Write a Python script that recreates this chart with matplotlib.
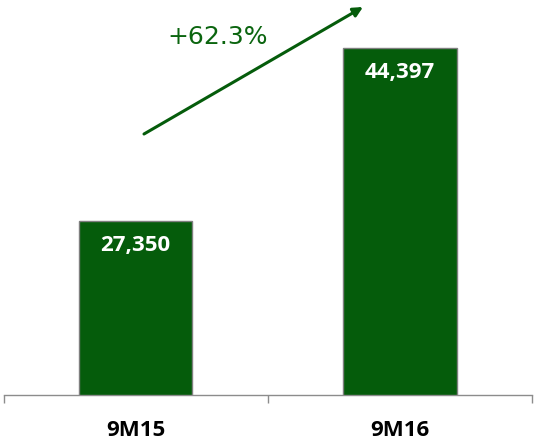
import matplotlib
matplotlib.use("Agg")
import matplotlib.pyplot as plt

# Period totals
categories = ["9M15", "9M16"]
values = [27350, 44397]
growth_label = "+62.3%"

BAR_GREEN = "#055C0B"
TEXT_GREEN = "#0B650F"
AXIS_GREY = "#8C8C8C"
LABEL_FONT = "Open Sans"

fig = plt.figure(figsize=(5.34, 4.41), dpi=100)
ax = fig.add_axes([3.5 / 534, 46 / 441, 528.5 / 534, 395 / 441])

x = list(range(len(categories)))
bars = ax.bar(x, values, width=0.43, color=BAR_GREEN,
              edgecolor="#7F7F7F", linewidth=1.0, zorder=2)

ax.set_xlim(-0.5, len(categories) - 0.5)
ax.set_ylim(10200, 49120)

# Value labels inside the top of each bar
for rect, v in zip(bars, values):
    ax.annotate(f"{v:,}", (rect.get_x() + rect.get_width() / 2, rect.get_height()),
                xytext=(0, -18), textcoords="offset points",
                ha="center", va="center", color="white",
                fontsize=16, fontweight="bold", family=LABEL_FONT)

# Axis styling: only the bottom spine with boundary ticks
for side in ("top", "right", "left"):
    ax.spines[side].set_visible(False)
ax.spines["bottom"].set_color(AXIS_GREY)
ax.spines["bottom"].set_linewidth(1.0)
ax.set_yticks([])

ax.set_xticks(x)
ax.set_xticklabels(categories, fontsize=16, fontweight="bold", family=LABEL_FONT)
ax.tick_params(axis="x", which="major", length=0, pad=18, colors="black")
ax.set_xticks([i - 0.5 for i in range(len(categories) + 1)], minor=True)
ax.tick_params(axis="x", which="minor", length=6, width=1.0, color=AXIS_GREY,
               direction="out")

# Growth arrow and label
ax.annotate("", xy=(363, 441 - 7), xytext=(144, 441 - 134),
            xycoords="figure pixels", textcoords="figure pixels",
            arrowprops=dict(arrowstyle="-|>", color=BAR_GREEN, lw=2.2,
                            mutation_scale=14, shrinkA=0, shrinkB=0))
fig.text(218 / 534, 1 - 37 / 441, growth_label, ha="center", va="center",
         color=TEXT_GREEN, fontsize=18, family="DejaVu Sans")

fig.savefig("out.png", dpi=100)
